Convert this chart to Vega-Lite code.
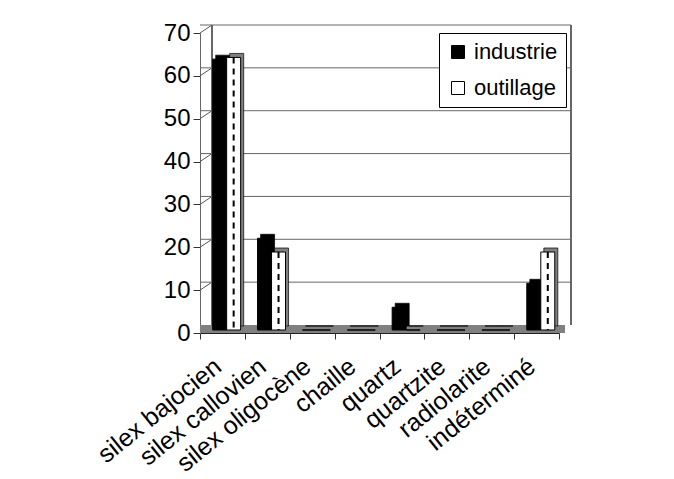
{
  "$schema": "https://vega.github.io/schema/vega-lite/v6.json",
  "width": 359,
  "height": 300,
  "autosize": {"type": "none"},
  "padding": {"left": 200, "top": 33, "right": 115, "bottom": 146},
  "background": "white",
  "config": {
    "view": {"stroke": null},
    "font": "Liberation Sans",
    "axis": {"title": null, "grid": false, "labelColor": "black", "labelFont": "Liberation Sans", "labelOverlap": false},
    "axisX": {"labelAngle": -39, "labelFontSize": 25, "labelBaseline": "alphabetic", "labelAlign": "right", "tickBand": "extent", "tickSize": 6, "tickColor": "#333333", "domainColor": "#222222", "labelPadding": 30},
    "axisY": {"labelFontSize": 24, "tickSize": 7, "labelPadding": 3, "tickColor": "#333333", "domainColor": "#666666"},
    "legend": {"labelFont": "Liberation Sans"}
  },
  "datasets": {
    "bars": [
      {"cat": "silex bajocien", "serie": "industrie", "val": 63.2},
      {"cat": "silex bajocien", "serie": "outillage", "val": 63.6},
      {"cat": "silex callovien", "serie": "industrie", "val": 21.4},
      {"cat": "silex callovien", "serie": "outillage", "val": 18.2},
      {"cat": "silex oligocène", "serie": "industrie", "val": 0},
      {"cat": "silex oligocène", "serie": "outillage", "val": 0},
      {"cat": "chaille", "serie": "industrie", "val": 0},
      {"cat": "chaille", "serie": "outillage", "val": 0},
      {"cat": "quartz", "serie": "industrie", "val": 5.3},
      {"cat": "quartz", "serie": "outillage", "val": 0},
      {"cat": "quartzite", "serie": "industrie", "val": 0},
      {"cat": "quartzite", "serie": "outillage", "val": 0},
      {"cat": "radiolarite", "serie": "industrie", "val": 0},
      {"cat": "radiolarite", "serie": "outillage", "val": 0},
      {"cat": "indéterminé", "serie": "industrie", "val": 10.9},
      {"cat": "indéterminé", "serie": "outillage", "val": 18.2}
    ],
    "grid": [{"v": 10}, {"v": 20}, {"v": 30}, {"v": 40}, {"v": 50}, {"v": 60}, {"v": 70}]
  },
  "resolve": {"scale": {"xOffset": "independent"}},
  "layer": [
    {
      "data": {"name": "bars"},
      "mark": {"type": "bar", "opacity": 0},
      "encoding": {
        "x": {
          "field": "cat", "type": "nominal",
          "scale": {"domain": ["silex bajocien", "silex callovien", "silex oligocène", "chaille", "quartz", "quartzite", "radiolarite", "indéterminé"], "paddingInner": 0, "paddingOuter": 0}
        },
        "y": {
          "field": "val", "type": "quantitative",
          "scale": {"domain": [0, 70], "nice": false},
          "axis": {"values": [0, 10, 20, 30, 40, 50, 60, 70]}
        }
      }
    },
    {
      "data": {"name": "grid"},
      "mark": {"type": "rule", "color": "#666666", "strokeWidth": 1, "xOffset": 12, "yOffset": -8},
      "encoding": {
        "y": {"field": "v", "type": "quantitative", "axis": {"values": [0, 10, 20, 30, 40, 50, 60, 70]}}
      }
    },
    {
      "data": {"name": "grid"},
      "mark": {"type": "rule", "color": "#555555", "strokeWidth": 1, "x2Offset": -10.44, "y2Offset": -8},
      "encoding": {
        "x": {"datum": "silex bajocien", "type": "nominal", "bandPosition": 0},
        "x2": {"datum": "silex bajocien"},
        "y": {"field": "v", "type": "quantitative", "axis": {"values": [0, 10, 20, 30, 40, 50, 60, 70]}},
        "y2": {"field": "v"}
      }
    },
    {
      "data": {"name": "grid"},
      "mark": {"type": "rule", "color": "#666666", "strokeWidth": 1, "xOffset": 12, "yOffset": -8, "y2Offset": -8},
      "encoding": {
        "x": {"datum": "silex bajocien", "type": "nominal", "bandPosition": 0},
        "y": {"datum": 0, "type": "quantitative", "axis": {"values": [0, 10, 20, 30, 40, 50, 60, 70]}},
        "y2": {"datum": 70}
      }
    },
    {
      "data": {"name": "grid"},
      "mark": {"type": "rule", "color": "#666666", "strokeWidth": 1, "xOffset": 12, "yOffset": -8, "y2Offset": -8},
      "encoding": {
        "x": {"datum": "indéterminé", "type": "nominal", "bandPosition": 1},
        "y": {"datum": 0, "type": "quantitative", "axis": {"values": [0, 10, 20, 30, 40, 50, 60, 70]}},
        "y2": {"datum": 70}
      }
    },
    {
      "data": {"name": "grid"},
      "mark": {"type": "rule", "color": "#808080", "strokeWidth": 8, "xOffset": 6, "yOffset": -4},
      "encoding": {
        "y": {"datum": 0, "type": "quantitative", "axis": {"values": [0, 10, 20, 30, 40, 50, 60, 70]}}
      }
    },
    {
      "data": {"name": "bars"},
      "mark": {"type": "bar", "stroke": "black", "strokeWidth": 0.7, "yOffset": -7, "y2Offset": -7},
      "encoding": {
        "x": {"field": "cat", "type": "nominal"},
        "xOffset": {"field": "serie", "type": "nominal", "scale": {"domain": ["industrie", "outillage"], "paddingInner": 0, "paddingOuter": 0.603, "align": 0.93}},
        "y": {"field": "val", "type": "quantitative", "axis": {"values": [0, 10, 20, 30, 40, 50, 60, 70]}},
        "fill": {"condition": {"test": "datum.serie === 'industrie'", "value": "black"}, "value": "#808080"}
      }
    },
    {
      "data": {"name": "bars"},
      "mark": {"type": "bar", "stroke": "black", "strokeWidth": 1, "yOffset": -3, "y2Offset": -3},
      "encoding": {
        "x": {"field": "cat", "type": "nominal"},
        "xOffset": {"field": "serie", "type": "nominal", "scale": {"domain": ["industrie", "outillage"], "paddingInner": 0, "paddingOuter": 0.603, "align": 0.75}},
        "y": {"field": "val", "type": "quantitative", "axis": {"values": [0, 10, 20, 30, 40, 50, 60, 70]}},
        "color": {
          "field": "serie", "type": "nominal",
          "scale": {"domain": ["industrie", "outillage"], "range": ["black", "white"]},
          "legend": {
            "title": null, "orient": "none", "legendX": 239, "legendY": 0,
            "labelFontSize": 22, "symbolType": "square", "symbolSize": 169,
            "symbolStrokeColor": "black", "symbolStrokeWidth": 1, "labelOffset": 5,
            "padding": 8, "rowPadding": 14, "strokeColor": "black", "fillColor": "white"
          }
        }
      }
    },
    {
      "data": {"name": "bars"},
      "transform": [{"filter": "datum.serie === 'outillage' && datum.val > 0"}],
      "mark": {"type": "rule", "color": "black", "strokeWidth": 2, "strokeDash": [6, 5], "yOffset": -3, "y2Offset": -3},
      "encoding": {
        "x": {"field": "cat", "type": "nominal"},
        "xOffset": {"field": "serie", "type": "nominal", "scale": {"domain": ["industrie", "outillage"], "paddingInner": 0, "paddingOuter": 0.603, "align": 0.75}},
        "y": {"field": "val", "type": "quantitative", "axis": {"values": [0, 10, 20, 30, 40, 50, 60, 70]}},
        "y2": {"datum": 0}
      }
    }
  ]
}
